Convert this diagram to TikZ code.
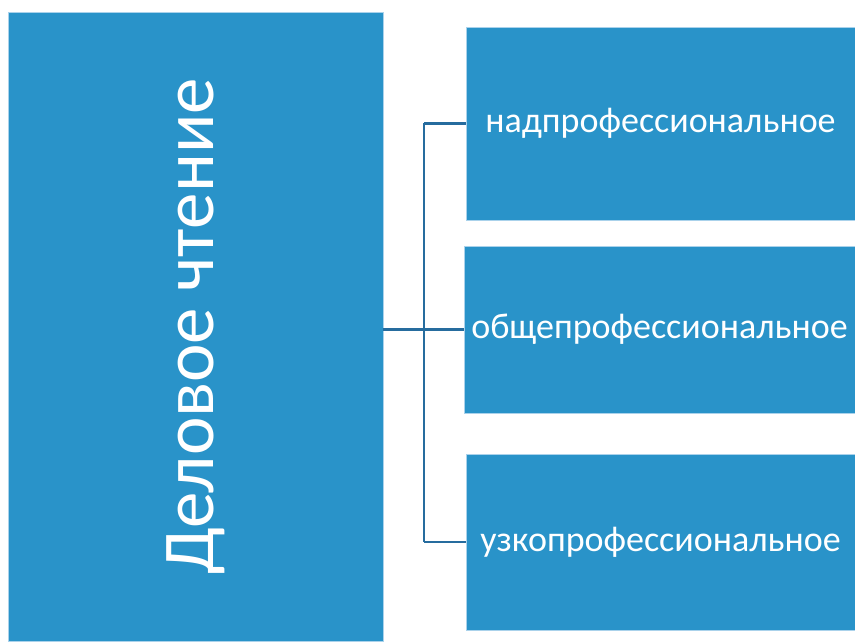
\documentclass[tikz,border=0pt]{standalone}
\usepackage{fontspec}
\setmainfont{Carlito}
\usetikzlibrary{positioning}
\definecolor{boxblue}{RGB}{41,147,201}
\definecolor{edgeblue}{RGB}{170,210,235}
\definecolor{linkblue}{RGB}{38,108,158}
\tikzset{
  block/.style={rectangle, fill=boxblue, draw=edgeblue, line width=0.8pt,
    inner sep=0pt, text=white, align=center},
  kind/.style={block, font=\fontsize{36}{42}\selectfont},
  link/.style={draw=linkblue, line width=2.4pt}
}
\begin{document}
\begin{tikzpicture}[x=1pt, y=1pt]
  \useasboundingbox (0,0) rectangle (855,641);
  % main block
  \node [block, minimum width=375pt, minimum height=629pt] (read) at (195.5,314.5)
    {\rotatebox{90}{\fontsize{73}{84}\selectfont Деловое чтение}};
  % three kinds
  \node [kind, minimum width=389pt, minimum height=193pt] (supra) at (660.5,517.5)
    {надпрофессиональное};
  \node [kind, minimum width=391pt, minimum height=167pt] (general) at (659.5,311.5)
    {общепрофессиональное};
  \node [kind, minimum width=389pt, minimum height=176pt] (narrow) at (660.5,99)
    {узкопрофессиональное};
  \coordinate (fork) at (424,311.5);
  \draw [link] (read.east |- general.west) -- (general.west);
  \draw [link] (fork |- supra.west) -- (fork |- narrow.west);
  \draw [link] (fork |- supra.west) -- (supra.west);
  \draw [link] (fork |- narrow.west) -- (narrow.west);
\end{tikzpicture}
\end{document}
